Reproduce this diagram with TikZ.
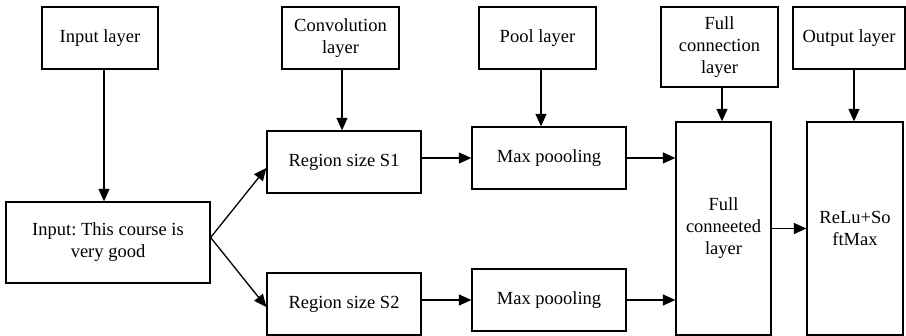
\documentclass[tikz,border=0pt]{standalone}
\usepackage{fontspec}
\setmainfont{Liberation Serif}
\usetikzlibrary{arrows.meta,calc}
\frenchspacing

\tikzset{
  blk/.style={draw=black, line width=1.3pt, rectangle, inner sep=0pt,
              align=center, font=\fontsize{18.5}{22}\selectfont},
  arr/.style={line width=1.3pt, -{Triangle[length=12.5pt,width=11pt]}},
}

\begin{document}
\begin{tikzpicture}[x=1pt, y=-1pt]
  \useasboundingbox (0,0) rectangle (906,336);

  % layer labels along the top
  \node[blk, minimum width=116pt, minimum height=62pt] (inl)  at (100,38)   {Input layer};
  \node[blk, minimum width=117pt, minimum height=62pt] (conv) at (340.5,38) {Convolution\\layer};
  \node[blk, minimum width=117pt, minimum height=62pt] (pool) at (537.5,38) {Pool layer};
  \node[blk, minimum width=117pt, minimum height=80pt] (fcl)  at (719.5,47) {Full\\connection\\layer};
  \node[blk, minimum width=112pt, minimum height=62pt] (outl) at (849,38)   {Output layer};

  % processing stages
  \node[blk, minimum width=204pt, minimum height=81pt] (inp)  at (108,242.5) {Input: This course is\\very good};
  \node[blk, minimum width=154pt, minimum height=62pt] (s1)   at (344,162)   {Region size S1};
  \node[blk, minimum width=154pt, minimum height=62pt] (s2)   at (344,304)   {Region size S2};
  \node[blk, minimum width=154pt, minimum height=62pt] (mp1)  at (549,158)   {Max poooling};
  \node[blk, minimum width=154pt, minimum height=62pt] (mp2)  at (549,300)   {Max poooling};
  \node[blk, minimum width=95pt,  minimum height=213pt] (fc)  at (723.5,228.5) {Full\\conneeted\\layer};
  \node[blk, minimum width=96pt,  minimum height=213pt] (relu) at (855,228.5) {ReLu+So\\ftMax};

  % start points of the vertical feeds
  \coordinate (inlo)  at ($(inl.south)+(4,0)$);
  \coordinate (convo) at ($(conv.south)+(1.5,0)$);
  \coordinate (poolo) at ($(pool.south)+(3.5,0)$);
  \coordinate (fclo)  at ($(fcl.south)+(2.5,0)$);
  \coordinate (outlo) at ($(outl.south)+(5,0)$);
  \coordinate (split) at ($(inp.east)+(0,-5)$);
  \coordinate (s1in)  at ($(s1.west)+(0,6)$);
  \coordinate (s2in)  at ($(s2.west)+(0,3)$);

  % layer labels feeding their stages
  \draw[arr] (inlo)  -- (inlo |- inp.north);
  \draw[arr] (convo) -- (convo |- s1.north);
  \draw[arr] (poolo) -- (poolo |- mp1.north);
  \draw[arr] (fclo)  -- (fclo |- fc.north);
  \draw[arr] (outlo) -- (outlo |- relu.north);

  % data flow
  \draw[arr] (split) -- (s1in);
  \draw[arr] (split) -- (s2in);
  \draw[arr] (s1.east |- mp1.west) -- (mp1.west);
  \draw[arr] (s2.east |- mp2.west) -- (mp2.west);
  \draw[arr] (mp1.east) -- (mp1.east -| fc.west);
  \draw[arr] (mp2.east) -- (mp2.east -| fc.west);
  \draw[arr] (fc.east) -- (relu.west);
\end{tikzpicture}
\end{document}
